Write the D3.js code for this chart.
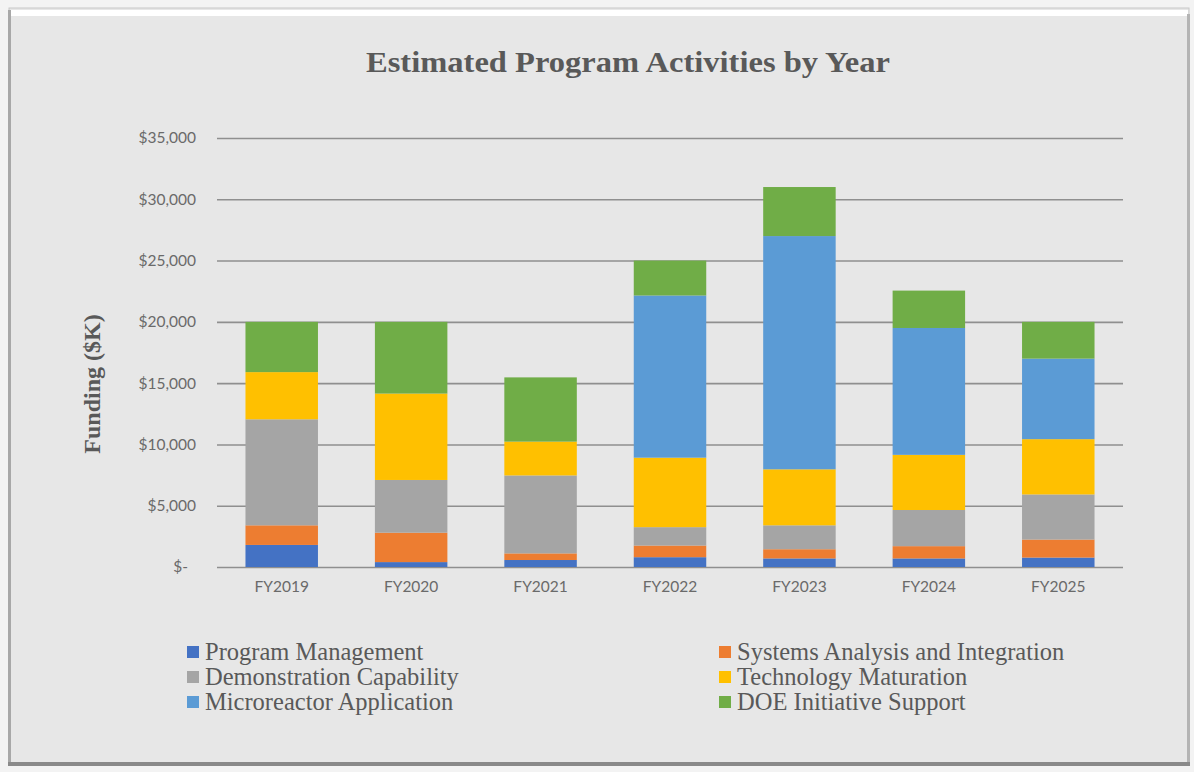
<!DOCTYPE html>
<html>
<head>
<meta charset="utf-8">
<script src="https://cdn.jsdelivr.net/npm/d3@7/dist/d3.min.js"></script>
<style>
  html, body { margin: 0; padding: 0; background: #f3f3f3; }
  svg { display: block; }
</style>
</head>
<body>
<svg id="chart" width="1194" height="772"></svg>
<script>
// ---- Data ----
const years = ["FY2019", "FY2020", "FY2021", "FY2022", "FY2023", "FY2024", "FY2025"];
const seriesNames = ["Program Management", "Systems Analysis and Integration", "Demonstration Capability",
                     "Technology Maturation", "Microreactor Application", "DOE Initiative Support"];
const programManagement      = [1800,  400,  570,   800,   700,   700,   770];
const systemsAnalysis        = [1600, 2400,  540,   950,   750,  1000,  1470];
const demonstrationCapability= [8650, 4300, 6360,  1500,  1950,  2950,  3680];
const technologyMaturation   = [3850, 7050, 2760,  5670,  4570,  4500,  4510];
const microreactorApplication= [   0,    0,    0, 13230, 19030, 10350,  6570];
const doeInitiativeSupport   = [4100, 5850, 5240,  2850,  4000,  3050,  3000];
const yTicks = [0, 5000, 10000, 15000, 20000, 25000, 30000, 35000];
const colors = ["#4472C4", "#ED7D31", "#A5A5A5", "#FFC000", "#5B9BD5", "#70AD47"];

const seriesValues = [programManagement, systemsAnalysis, demonstrationCapability,
                      technologyMaturation, microreactorApplication, doeInitiativeSupport];
const table = years.map((y, i) => {
  const row = { year: y };
  seriesNames.forEach((s, j) => row[s] = seriesValues[j][i]);
  return row;
});

// ---- Layout ----
const svg = d3.select("#chart");
const W = 1194, H = 772;
const plot = { left: 217, right: 1123, top: 138, bottom: 567 };

// frame
svg.append("rect").attr("x", 0).attr("y", 0).attr("width", W).attr("height", H).attr("fill", "#f3f3f3");
svg.append("rect").attr("x", 9).attr("y", 8).attr("width", 1180).attr("height", 757)
  .attr("fill", "#e7e7e7").attr("stroke", "#c8c8c8").attr("stroke-width", 1);
svg.append("rect").attr("x", 10).attr("y", 10).attr("width", 1178).attr("height", 6).attr("fill", "#ffffff");
svg.append("rect").attr("x", 8).attr("y", 10).attr("width", 3).attr("height", 755).attr("fill", "#a8a8a8");
svg.append("rect").attr("x", 1187).attr("y", 14).attr("width", 3).attr("height", 751).attr("fill", "#b4b4b4");
svg.append("rect").attr("x", 8).attr("y", 762).attr("width", 1182).attr("height", 4).attr("fill", "#8a8a8a");

const x = d3.scaleBand().domain(years).range([plot.left, plot.right]).paddingInner(0.44).paddingOuter(0.22);
const y = d3.scaleLinear().domain([0, 35000]).range([plot.bottom, plot.top]);

// gridlines
const yAxis = d3.axisLeft(y).tickValues(yTicks)
  .tickSize(-(plot.right - plot.left))
  .tickPadding(21)
  .tickFormat(d => d === 0 ? "$-" : "$" + d3.format(",")(d));
const gy = svg.append("g").attr("transform", `translate(${plot.left},0)`).call(yAxis);
gy.select(".domain").remove();
gy.selectAll(".tick line").attr("stroke", "#8f8f8f").attr("stroke-width", 1.6);
gy.selectAll(".tick text").attr("fill", "#6a6a6a").attr("font-family", "Lato, 'Open Sans', sans-serif")
  .attr("font-size", 15.5);
gy.selectAll(".tick text").filter(d => d === 0).attr("dx", -8);

// bars
const stack = d3.stack().keys(seriesNames);
const stacked = stack(table);
svg.append("g").selectAll("g").data(stacked).join("g")
  .attr("fill", (d, i) => colors[i])
  .selectAll("rect").data(d => d).join("rect")
  .attr("x", d => x(d.data.year))
  .attr("width", x.bandwidth())
  .attr("y", d => y(d[1]))
  .attr("height", d => Math.max(0, y(d[0]) - y(d[1])));

// x axis labels
const xAxis = d3.axisBottom(x).tickSize(0).tickPadding(14);
const gx = svg.append("g").attr("transform", `translate(0,${plot.bottom})`).call(xAxis);
gx.select(".domain").remove();
gx.selectAll(".tick text").attr("fill", "#6a6a6a").attr("font-family", "Lato, 'Open Sans', sans-serif")
  .attr("font-size", 15.5);

// title
const title = svg.append("text").attr("x", 628).attr("y", 72).attr("text-anchor", "middle")
  .attr("font-family", "'Liberation Serif', 'Times New Roman', serif").attr("font-weight", "bold")
  .attr("font-size", 30).attr("fill", "#595959").text("Estimated Program Activities by Year");
{
  const len = title.node().getComputedTextLength();
  if (Math.abs(len - 524) > 4) title.attr("textLength", 524).attr("lengthAdjust", "spacingAndGlyphs");
}

// y axis label
svg.append("text").attr("transform", "translate(100,384) rotate(-90)").attr("text-anchor", "middle")
  .attr("font-family", "'Liberation Serif', 'Times New Roman', serif").attr("font-weight", "bold")
  .attr("font-size", 24).attr("fill", "#595959").text("Funding ($K)");

// legend
const legendCols = [{ mx: 187, tx: 205 }, { mx: 719, tx: 737 }];
const legend = svg.append("g");
seriesNames.forEach((s, i) => {
  const col = legendCols[i % 2];
  const row = Math.floor(i / 2);
  const cy = 652 + row * 25;
  legend.append("rect").attr("x", col.mx).attr("y", cy - 6).attr("width", 12).attr("height", 12).attr("fill", colors[i]);
  legend.append("text").attr("x", col.tx).attr("y", cy + 8)
    .attr("font-family", "'Liberation Serif', 'Times New Roman', serif")
    .attr("font-size", 24.5).attr("fill", "#595959").text(s);
});
</script>
</body>
</html>
